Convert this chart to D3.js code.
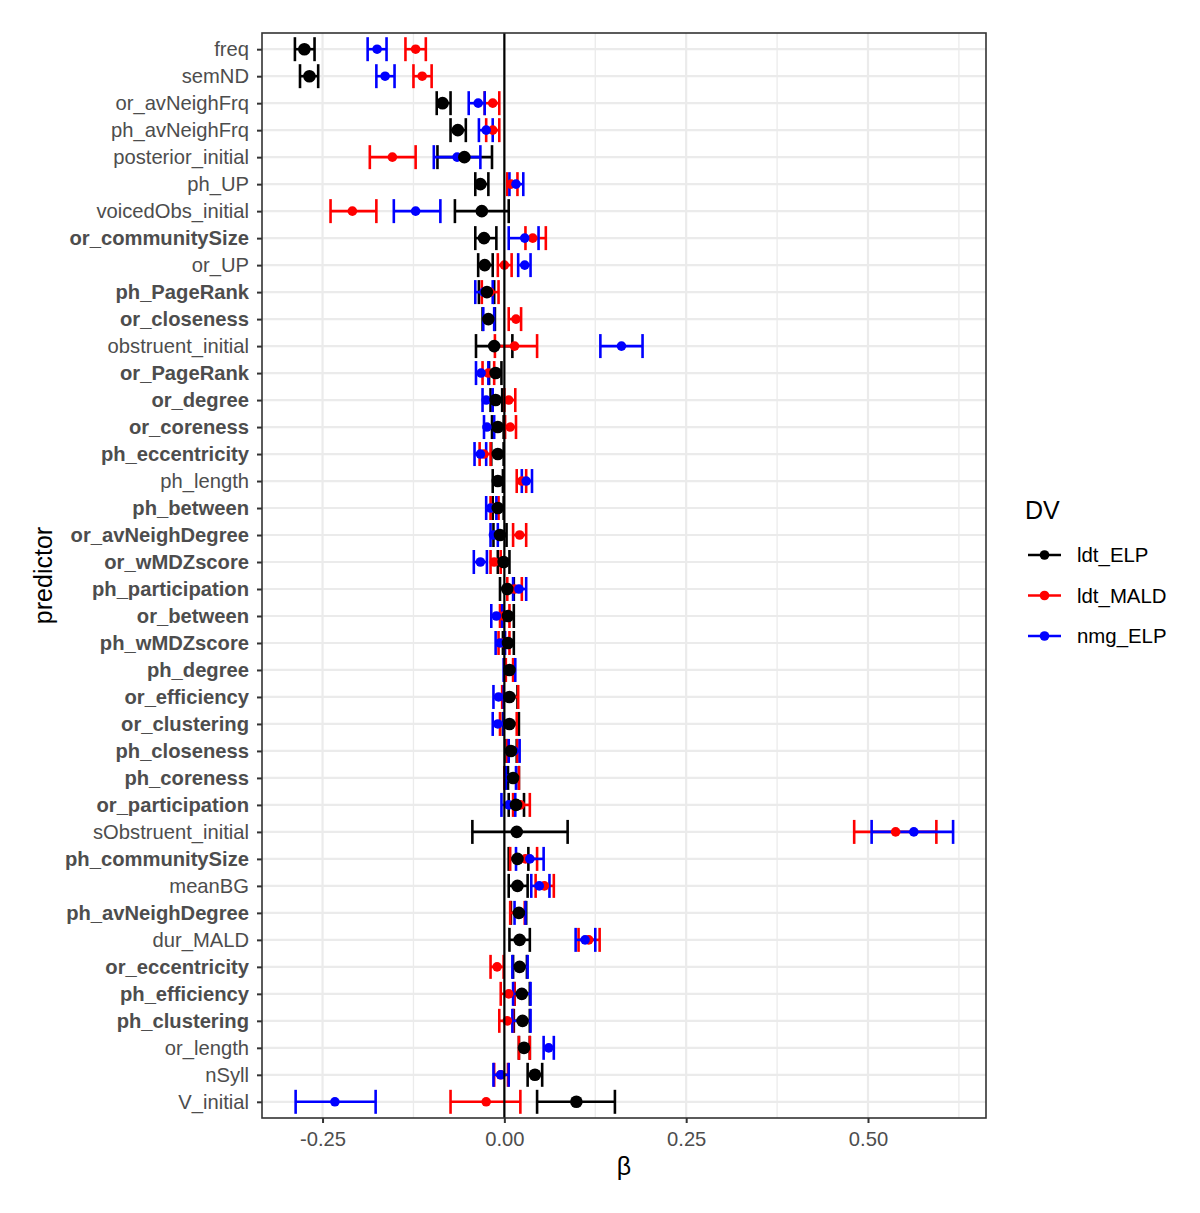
<!DOCTYPE html>
<html>
<head>
<meta charset="utf-8">
<script src="https://cdn.jsdelivr.net/npm/d3@7"></script>
<style>
  body { margin: 0; background: #fff; }
  text { font-family: "Liberation Sans", Arial, Helvetica, sans-serif; }
</style>
</head>
<body>
<svg id="chart" width="1200" height="1213"></svg>
<script>
// predictors, top to bottom
const predictors = ["freq", "semND", "or_avNeighFrq", "ph_avNeighFrq", "posterior_initial", "ph_UP",
    "voicedObs_initial", "or_communitySize", "or_UP", "ph_PageRank", "or_closeness", "obstruent_initial",
    "or_PageRank", "or_degree", "or_coreness", "ph_eccentricity", "ph_length", "ph_between",
    "or_avNeighDegree", "or_wMDZscore", "ph_participation", "or_between", "ph_wMDZscore", "ph_degree",
    "or_efficiency", "or_clustering", "ph_closeness", "ph_coreness", "or_participation",
    "sObstruent_initial", "ph_communitySize", "meanBG", "ph_avNeighDegree", "dur_MALD",
    "or_eccentricity", "ph_efficiency", "ph_clustering", "or_length", "nSyll", "V_initial"];

// network measures are shown in bold on the axis
const boldPredictors = ["or_communitySize", "ph_PageRank", "or_closeness", "or_PageRank", "or_degree",
    "or_coreness", "ph_eccentricity", "ph_between", "or_avNeighDegree", "or_wMDZscore", "ph_participation",
    "or_between", "ph_wMDZscore", "ph_degree", "or_efficiency", "or_clustering", "ph_closeness",
    "ph_coreness", "or_participation", "ph_communitySize", "ph_avNeighDegree", "or_eccentricity",
    "ph_efficiency", "ph_clustering"];

const dvs = ["ldt_ELP", "ldt_MALD", "nmg_ELP"];
const dvColors = ["black", "red", "blue"];

// [beta, lower, upper] per predictor
const ldtELP = [
    [-0.275, -0.288, -0.261], [-0.268, -0.281, -0.256], [-0.085, -0.093, -0.074], [-0.064, -0.074, -0.053],
    [-0.055, -0.092, -0.017], [-0.033, -0.040, -0.022], [-0.031, -0.068, 0.006], [-0.028, -0.040, -0.011],
    [-0.027, -0.036, -0.016], [-0.024, -0.035, -0.014], [-0.022, -0.030, -0.013], [-0.014, -0.039, 0.011],
    [-0.012, -0.021, -0.004], [-0.012, -0.019, -0.003], [-0.009, -0.017, -0.001], [-0.009, -0.018, -0.001],
    [-0.009, -0.016, -0.002], [-0.009, -0.016, -0.001], [-0.006, -0.015, 0.003], [-0.001, -0.009, 0.007],
    [0.004, -0.006, 0.013], [0.005, -0.003, 0.013], [0.005, -0.002, 0.013], [0.007, 0.001, 0.014],
    [0.007, -0.002, 0.018], [0.007, -0.002, 0.020], [0.009, 0.003, 0.017], [0.012, 0.005, 0.020],
    [0.016, 0.006, 0.027], [0.017, -0.044, 0.087], [0.018, 0.006, 0.033], [0.018, 0.006, 0.032],
    [0.020, 0.009, 0.030], [0.021, 0.007, 0.035], [0.021, 0.012, 0.031], [0.024, 0.014, 0.035],
    [0.025, 0.013, 0.035], [0.027, 0.020, 0.035], [0.042, 0.032, 0.052], [0.099, 0.045, 0.152]];

const ldtMALD = [
    [-0.122, -0.136, -0.108], [-0.113, -0.125, -0.100], [-0.016, -0.027, -0.007], [-0.016, -0.025, -0.007],
    [-0.154, -0.185, -0.122], [0.009, 0.004, 0.018], [-0.209, -0.239, -0.176], [0.039, 0.029, 0.057],
    [0.000, -0.009, 0.010], [-0.020, -0.031, -0.008], [0.016, 0.006, 0.023], [0.014, -0.013, 0.045],
    [-0.022, -0.030, -0.014], [0.006, 0.000, 0.015], [0.008, 0.001, 0.016], [-0.028, -0.034, -0.019],
    [0.024, 0.017, 0.030], [-0.014, -0.019, -0.008], [0.021, 0.012, 0.030], [-0.014, -0.019, -0.005],
    [0.014, 0.004, 0.024], [-0.001, -0.006, 0.007], [-0.001, -0.008, 0.007], [0.007, 0.002, 0.012],
    [0.008, -0.003, 0.019], [0.006, -0.006, 0.017], [0.011, 0.004, 0.018], [0.010, 0.000, 0.020],
    [0.022, 0.012, 0.035], [0.538, 0.481, 0.594], [0.029, 0.008, 0.045], [0.055, 0.043, 0.068],
    [0.019, 0.008, 0.028], [0.116, 0.102, 0.131], [-0.010, -0.019, -0.001], [0.006, -0.005, 0.014],
    [0.004, -0.007, 0.012], [0.027, 0.020, 0.035], [-0.005, -0.014, 0.005], [-0.025, -0.074, 0.022]];

const nmgELP = [
    [-0.175, -0.188, -0.162], [-0.164, -0.176, -0.151], [-0.036, -0.049, -0.027], [-0.025, -0.035, -0.016],
    [-0.065, -0.097, -0.033], [0.016, 0.007, 0.026], [-0.122, -0.152, -0.088], [0.028, 0.006, 0.047],
    [0.028, 0.019, 0.036], [-0.028, -0.040, -0.016], [-0.022, -0.029, -0.014], [0.161, 0.132, 0.190],
    [-0.032, -0.039, -0.022], [-0.025, -0.030, -0.016], [-0.024, -0.028, -0.014], [-0.033, -0.041, -0.025],
    [0.030, 0.024, 0.038], [-0.019, -0.025, -0.011], [-0.015, -0.019, -0.009], [-0.033, -0.042, -0.024],
    [0.020, 0.012, 0.030], [-0.011, -0.018, -0.003], [-0.006, -0.012, 0.001], [0.007, -0.001, 0.015],
    [-0.008, -0.015, -0.001], [-0.009, -0.016, -0.001], [0.013, 0.006, 0.021], [0.009, 0.002, 0.016],
    [0.006, -0.004, 0.015], [0.563, 0.505, 0.617], [0.035, 0.016, 0.054], [0.048, 0.037, 0.062],
    [0.020, 0.014, 0.029], [0.111, 0.098, 0.125], [0.021, 0.011, 0.032], [0.024, 0.012, 0.036],
    [0.024, 0.011, 0.036], [0.061, 0.054, 0.068], [-0.005, -0.015, 0.006], [-0.233, -0.287, -0.177]];

const xTicks = [-0.25, 0, 0.25, 0.5];
const xMinor = [-0.125, 0.125, 0.375, 0.625];

const series = [ldtELP, ldtMALD, nmgELP];
const rows = [];
series.forEach((s, k) => s.forEach((v, i) => rows.push({
    dv: dvs[k], predictor: predictors[i], beta: v[0], lo: v[1], hi: v[2]
})));

const svg = d3.select("#chart");
const panel = {left: 262, right: 986, top: 33, bottom: 1118};

// ggplot style 5% expansion
const lo = d3.min(rows, d => d.lo), hi = d3.max(rows, d => d.hi);
const pad = (hi - lo) * 0.05;
const xScale = d3.scaleLinear().domain([lo - pad, hi + pad]).range([panel.left, panel.right]);
const yScale = d3.scalePoint().domain(predictors).range([panel.top, panel.bottom]).padding(0.6);
const color = d3.scaleOrdinal().domain(dvs).range(dvColors);

// grid
const grid = svg.append("g");
grid.selectAll(".minor").data(xMinor.filter(v => xScale(v) < panel.right)).join("line")
    .attr("x1", d => xScale(d)).attr("x2", d => xScale(d))
    .attr("y1", panel.top).attr("y2", panel.bottom)
    .attr("stroke", "#ebebeb").attr("stroke-width", 1.3);
grid.selectAll(".hmaj").data(predictors).join("line")
    .attr("x1", panel.left).attr("x2", panel.right)
    .attr("y1", d => yScale(d)).attr("y2", d => yScale(d))
    .attr("stroke", "#ebebeb").attr("stroke-width", 2.2);
grid.selectAll(".vmaj").data(xTicks).join("line")
    .attr("x1", d => xScale(d)).attr("x2", d => xScale(d))
    .attr("y1", panel.top).attr("y2", panel.bottom)
    .attr("stroke", "#ebebeb").attr("stroke-width", 2.2);

// error bars
const cap = 12;
const bars = svg.append("g").selectAll("g").data(rows).join("g")
    .attr("stroke", d => color(d.dv)).attr("stroke-width", 2.6);
bars.append("line")
    .attr("x1", d => xScale(d.lo)).attr("x2", d => xScale(d.hi))
    .attr("y1", d => yScale(d.predictor)).attr("y2", d => yScale(d.predictor));
bars.append("line")
    .attr("x1", d => xScale(d.lo)).attr("x2", d => xScale(d.lo))
    .attr("y1", d => yScale(d.predictor) - cap).attr("y2", d => yScale(d.predictor) + cap);
bars.append("line")
    .attr("x1", d => xScale(d.hi)).attr("x2", d => xScale(d.hi))
    .attr("y1", d => yScale(d.predictor) - cap).attr("y2", d => yScale(d.predictor) + cap);

// small points for the other DVs
svg.append("g").selectAll("circle").data(rows.filter(d => d.dv !== "ldt_ELP")).join("circle")
    .attr("cx", d => xScale(d.beta)).attr("cy", d => yScale(d.predictor))
    .attr("r", 4.8).attr("fill", d => color(d.dv));

// zero line
svg.append("line")
    .attr("x1", xScale(0)).attr("x2", xScale(0))
    .attr("y1", panel.top).attr("y2", panel.bottom)
    .attr("stroke", "black").attr("stroke-width", 2.2);

// ldt_ELP points on top
svg.append("g").selectAll("circle").data(rows.filter(d => d.dv === "ldt_ELP")).join("circle")
    .attr("cx", d => xScale(d.beta)).attr("cy", d => yScale(d.predictor))
    .attr("r", 6.3).attr("fill", "black");

// panel border
svg.append("rect")
    .attr("x", panel.left).attr("y", panel.top)
    .attr("width", panel.right - panel.left).attr("height", panel.bottom - panel.top)
    .attr("fill", "none").attr("stroke", "#333").attr("stroke-width", 1.6);

// axes
const yAxis = svg.append("g").attr("transform", `translate(${panel.left},0)`)
    .call(d3.axisLeft(yScale).tickSize(5).tickPadding(8));
const xAxis = svg.append("g").attr("transform", `translate(0,${panel.bottom})`)
    .call(d3.axisBottom(xScale).tickValues(xTicks).tickSize(5).tickPadding(9)
        .tickFormat(d3.format(".2f")));
[xAxis, yAxis].forEach(ax => {
    ax.select(".domain").remove();
    ax.selectAll(".tick line").attr("stroke", "#333").attr("stroke-width", 2);
    ax.selectAll(".tick text").attr("fill", "#4d4d4d").style("font-size", "20.2px")
        .style("font-family", "'Liberation Sans', Arial, sans-serif");
});
yAxis.selectAll(".tick text")
    .style("font-weight", d => boldPredictors.includes(d) ? "bold" : "normal");
xAxis.selectAll(".tick text").text(d => d < 0 ? "-" + d3.format(".2f")(-d) : d3.format(".2f")(d));

// axis titles
svg.append("text").attr("x", (panel.left + panel.right) / 2).attr("y", 1175)
    .attr("text-anchor", "middle").style("font-size", "25px").text("β");
svg.append("text").attr("transform", `translate(52,${(panel.top + panel.bottom) / 2}) rotate(-90)`)
    .attr("text-anchor", "middle").style("font-size", "25px").text("predictor");

// legend
const legend = svg.append("g").attr("transform", "translate(1025,0)");
legend.append("text").attr("x", 0).attr("y", 519).style("font-size", "25px").text("DV");
const keys = legend.selectAll(".key").data(dvs).join("g")
    .attr("transform", (d, i) => `translate(0,${555 + i * 40.5})`);
keys.append("line").attr("x1", 3).attr("x2", 36).attr("stroke", d => color(d)).attr("stroke-width", 2.6);
keys.append("circle").attr("cx", 19.5).attr("r", 4.8).attr("fill", d => color(d));
keys.append("text").attr("x", 52).attr("dy", "0.35em").style("font-size", "20.4px").text(d => d);
</script>
</body>
</html>
